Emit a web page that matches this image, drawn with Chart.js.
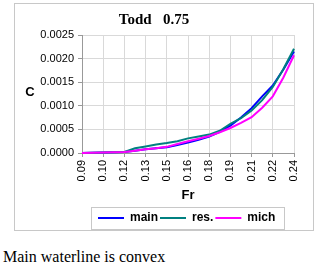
<!DOCTYPE html>
<html>
<head>
<meta charset="utf-8">
<script src="https://cdn.jsdelivr.net/npm/chart.js@4"></script>
<style>
  html, body { margin: 0; padding: 0; background: #fff; }
  #wrap { position: relative; width: 315px; height: 240px; }
  #caption {
    position: absolute; left: 3px; top: 248px;
    font-family: "Liberation Serif", "Times New Roman", serif;
    font-size: 16px; color: #000; white-space: nowrap;
  }
</style>
</head>
<body>
<div id="wrap"><canvas id="toddChart" width="315" height="240"></canvas></div>
<div id="caption">Main waterline is convex</div>
<script>
// Fr values (every other one gets a label on the axis)
const frValues = ['0.09', '0.0975', '0.105', '0.1125', '0.12', '0.1275', '0.135', '0.1425', '0.15', '0.1575', '0.165',
                  '0.1725', '0.18', '0.1875', '0.195', '0.2025', '0.21', '0.2175', '0.225', '0.2325', '0.24'];
const xTickLabels = ['0.09', '0.10', '0.12', '0.13', '0.15', '0.16', '0.18', '0.19', '0.21', '0.22', '0.24'];
const yTickLabels = ['0.0000', '0.0005', '0.0010', '0.0015', '0.0020', '0.0025'];

const mainValues = [0, 0.000005, 0.00001, 0.000015, 0.00002, 0.00005, 0.00008, 0.0001, 0.00012, 0.00017, 0.00022,
                    0.00028, 0.00035, 0.00045, 0.00058, 0.00075, 0.00095, 0.0012, 0.00143, 0.00177, 0.00215];
const resValues = [0, 0.000005, 0.00001, 0.000015, 0.00002, 0.0001, 0.00014, 0.00018, 0.00021, 0.00025, 0.00031,
                   0.00035, 0.00039, 0.00047, 0.00062, 0.00074, 0.0009, 0.00112, 0.0014, 0.00178, 0.00221];
const michValues = [0, 0.000005, 0.00001, 0.000015, 0.00002, 0.00005, 0.00008, 0.0001, 0.00013, 0.00019, 0.00025,
                    0.0003, 0.00036, 0.00044, 0.00053, 0.00064, 0.00076, 0.00096, 0.0012, 0.0016, 0.00207];

const sans = '"Liberation Sans", Arial, sans-serif';
const serif = '"Liberation Serif", "Times New Roman", serif';

// frame, legend box and the upright "C" axis title
const decorations = {
    id: 'decorations',
    afterLayout(chart) {
        chart.legend.left = chart.chartArea.left + 14;
    },
    beforeDraw(chart) {
        const ctx = chart.ctx;
        ctx.save();
        ctx.fillStyle = '#fff';
        ctx.fillRect(0, 0, chart.width, chart.height);
        ctx.strokeStyle = '#c8c8c8';
        ctx.lineWidth = 1;
        ctx.strokeRect(14.5, 3.5, chart.width - 16, chart.legend.bottom - 7);
        ctx.restore();
    },
    afterDraw(chart) {
        const ctx = chart.ctx;
        const area = chart.chartArea;
        const hb = chart.legend.legendHitBoxes;
        ctx.save();
        // legend border
        const first = hb[0], last = hb[hb.length - 1];
        ctx.strokeStyle = '#c8c8c8';
        ctx.lineWidth = 1;
        const bx = Math.round(first.left - 7) + 0.5;
        const by = Math.round(first.top - 5) + 0.5;
        const bw = Math.round(last.left + last.width + 9) - bx + 0.5;
        ctx.strokeRect(bx, by, bw, first.height + 10);
        // y axis title
        ctx.fillStyle = '#000';
        ctx.font = 'bold 13px ' + sans;
        ctx.textAlign = 'center';
        ctx.textBaseline = 'middle';
        ctx.fillText('C', area.left - 52, (area.top + area.bottom) / 2 - 2);
        ctx.restore();
    }
};

const ctx = document.getElementById('toddChart').getContext('2d');
const toddChart = new Chart(ctx, {
    type: 'line',
    data: {
        labels: frValues,
        datasets: [
            { label: 'main', data: mainValues, borderColor: '#0000ff', backgroundColor: '#0000ff', borderWidth: 2, order: 3 },
            { label: 'res.', data: resValues, borderColor: '#008080', backgroundColor: '#008080', borderWidth: 2, order: 2 },
            { label: 'mich', data: michValues, borderColor: '#ff00ff', backgroundColor: '#ff00ff', borderWidth: 2, order: 1 }
        ]
    },
    options: {
        responsive: false,
        animation: false,
        events: [],
        layout: { padding: { left: 14, right: 21, top: 0, bottom: 6 } },
        elements: {
            line: { borderWidth: 2, tension: 0, fill: false },
            point: { radius: 0, borderWidth: 2 }
        },
        datasets: { line: { clip: false } },
        plugins: {
            title: {
                display: true,
                text: 'Todd   0.75',
                color: '#000',
                font: { family: serif, size: 15, weight: 'bold' },
                padding: { top: 11, bottom: 6 }
            },
            legend: {
                position: 'bottom',
                align: 'start',
                labels: {
                    usePointStyle: true,
                    pointStyle: 'line',
                    pointStyleWidth: 26,
                    padding: 2,
                    color: '#000',
                    font: { family: sans, size: 12, weight: 'bold' },
                    sort: (a, b) => a.datasetIndex - b.datasetIndex
                }
            },
            tooltip: { enabled: false }
        },
        scales: {
            x: {
                afterFit: (scale) => { scale.height = 57; },
                grid: {
                    color: (c) => (c.index % 2 === 0 ? '#d9d9d9' : 'rgba(0,0,0,0)'),
                    tickColor: (c) => (c.index % 2 === 0 ? '#999' : 'rgba(0,0,0,0)'),
                    tickLength: 4
                },
                border: { color: '#999' },
                ticks: {
                    autoSkip: false,
                    minRotation: 90,
                    maxRotation: 90,
                    padding: 3,
                    color: '#000',
                    font: { family: sans, size: 11 },
                    callback: (v, i) => (i % 2 === 0 ? xTickLabels[i / 2] : '')
                },
                title: {
                    display: true,
                    text: 'Fr',
                    color: '#000',
                    font: { family: sans, size: 13, weight: 'bold' },
                    padding: { top: 0, bottom: 7 }
                }
            },
            y: {
                min: 0,
                max: 0.0025,
                afterFit: (scale) => { scale.width = 68; },
                grid: { color: '#d9d9d9', tickColor: '#999', tickLength: 4 },
                border: { color: '#999' },
                ticks: {
                    stepSize: 0.0005,
                    padding: 4,
                    color: '#000',
                    font: { family: sans, size: 11 },
                    callback: (v, i) => yTickLabels[i]
                }
            }
        }
    },
    plugins: [decorations]
});
</script>
</body>
</html>
